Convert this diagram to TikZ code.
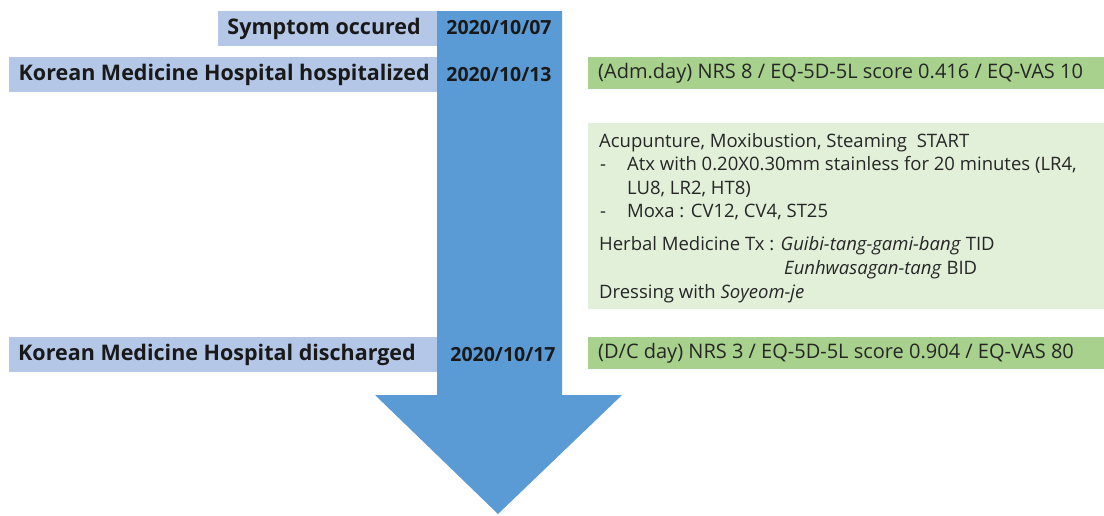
\documentclass[tikz,border=0pt]{standalone}
\usepackage{fontspec}
\setmainfont{Open Sans}
\definecolor{lblue}{HTML}{B4C7E7}
\definecolor{ablue}{HTML}{5B9BD5}
\definecolor{dgreen}{HTML}{A9D18E}
\definecolor{lgreen}{HTML}{E2F0D9}
\tikzset{
  lbl/.style={font=\bfseries\fontsize{21.5}{26}\selectfont, inner sep=0pt, text=black!90},
  datelbl/.style={font=\bfseries\fontsize{19.5}{23}\selectfont, inner sep=0pt, text=black!90},
  gtxt/.style={font=\fontsize{20}{24}\selectfont, inner sep=0pt, anchor=west, text=black!85},
  btxt/.style={font=\fontsize{18.5}{22}\selectfont, inner sep=0pt, anchor=base west, text=black!85},
}
\begin{document}
\begin{tikzpicture}[x=1pt,y=-1pt]
\useasboundingbox (0,0) rectangle (1104,515);
% light blue label boxes
\fill[lblue] (218,11) rectangle (437,46);
\fill[lblue] (9,57) rectangle (437,92);
\fill[lblue] (9,337) rectangle (437,372);
% arrow
\fill[ablue] (437,11) -- (562,11) -- (562,395) -- (622,395) -- (498,514) -- (375,395) -- (437,395) -- cycle;
% green boxes
\fill[dgreen] (588,57) rectangle (1104,89);
\fill[lgreen] (588,123) rectangle (1104,309);
\fill[dgreen] (588,337) rectangle (1104,369);
% labels
\node[lbl, anchor=east] (sym) at (421,29) {Symptom occured};
\node[lbl, anchor=east] (hosp) at (430,75) {Korean Medicine Hospital hospitalized};
\node[lbl, anchor=west] (dis) at (18,355) {Korean Medicine Hospital discharged};
\node[datelbl] (d1) at (499,28) {2020/10/07};
\node[datelbl] (d2) at (499,75) {2020/10/13};
\node[datelbl] (d3) at (503,355) {2020/10/17};
% green texts
\node[gtxt] (adm) at (598,73) {(Adm.day) NRS 8 / EQ-5D-5L score 0.416 / EQ-VAS 10};
\node[gtxt] (dc) at (598,353) {(D/C day) NRS 3 / EQ-5D-5L score 0.904 / EQ-VAS 80};
\node[btxt] (l1) at (599,147) {Acupunture, Moxibustion, Steaming\ \ START};
\node[btxt] (h1) at (600,170) {-};
\node[btxt] (l2) at (627,170) {Atx with 0.20X0.30mm stainless for 20 minutes (LR4,};
\node[btxt] (l3) at (627,194) {LU8, LR2, HT8)};
\node[btxt] (h2) at (600,217) {-};
\node[btxt] (l4) at (627,217) {Moxa : CV12, CV4, ST25};
\node[btxt] (l5) at (599,250) {Herbal Medicine Tx : \textit{Guibi-tang-gami-bang} TID};
\node[btxt] (l6) at (784,274) {\textit{Eunhwasagan-tang} BID};
\node[btxt] (l7) at (599,298) {Dressing with \textit{Soyeom-je}};
\end{tikzpicture}
\end{document}
